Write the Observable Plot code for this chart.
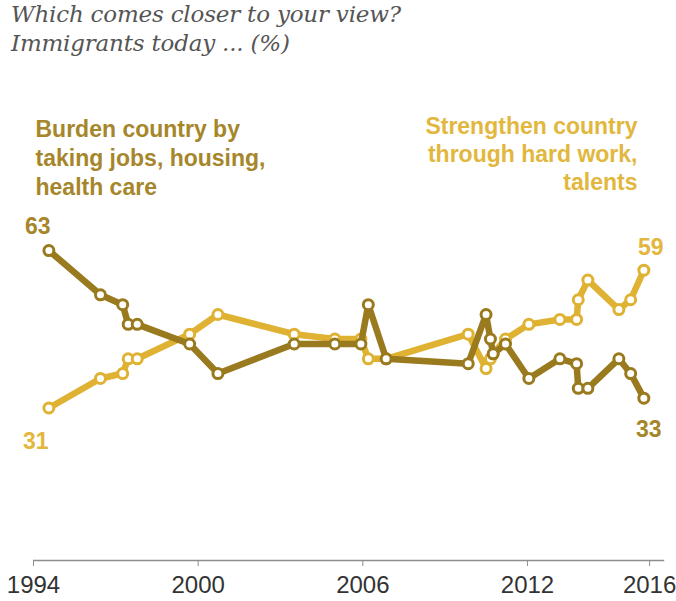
<!DOCTYPE html>
<html><head><meta charset="utf-8">
<script src="https://cdn.jsdelivr.net/npm/d3@7"></script>
<script src="https://cdn.jsdelivr.net/npm/@observablehq/plot@0.6"></script>
<style>
body{margin:0;background:#fff;width:676px;height:601px;overflow:hidden}
#title{height:70px;padding:0 0 0 11px;box-sizing:border-box;font-family:"DejaVu Serif",serif;font-style:italic;font-size:23px;line-height:29px;color:#555;letter-spacing:-0.2px}
#chart svg{display:block}
</style></head><body>
<div id="title">Which comes closer to your view?<br>Immigrants today ... (%)</div>
<div id="chart"></div>
<script>
// survey dates (decimal years)
const dates = [1994.56, 1996.44, 1997.25, 1997.45, 1997.78, 1999.69, 2000.72, 2003.5, 2004.98, 2005.93, 2006.2, 2006.85, 2009.84, 2010.49, 2010.65, 2010.75, 2011.2, 2012.05, 2013.18, 2013.79, 2013.85, 2014.2, 2015.33, 2015.76, 2016.24];
// "Strengthen country through hard work, talents" (%)
const strengthen = [31, 37, 38, 41, 41, 46, 50, 46, 45, 45, 41, 41, 46, 39, 41, 42, 45, 48, 49, 49, 53, 57, 51, 53, 59];
// "Burden country by taking jobs, housing, health care" (%)
const burden = [63, 54, 52, 48, 48, 44, 38, 44, 44, 44, 52, 41, 40, 50, 45, 42, 44, 37, 41, 40, 35, 35, 41, 38, 33];
const xTicks = [1994, 2000, 2006, 2012, 2016.45];
const xTickLabels = ["1994", "2000", "2006", "2012", "2016"];
const burdenLabel = "Burden country by\ntaking jobs, housing,\nhealth care";
const strengthenLabel = "Strengthen country\nthrough hard work,\ntalents";

const sColor = "#dfb233";
const bColor = "#9a7a1e";
const sText = "#e2b73e";
const bText = "#a6862a";

const rows = dates.map((d, i) => ({date: d, s: strengthen[i], b: burden[i]}));
const first = [rows[0]];
const last = [rows[rows.length - 1]];

const chart = Plot.plot({
  width: 676,
  height: 531,
  marginLeft: 33,
  marginRight: 11.8,
  marginTop: 145.6,
  marginBottom: 41,
  x: {domain: [1994, 2017], axis: null},
  y: {domain: [0, 70], axis: null},
  style: {fontFamily: "'Liberation Sans', Arial, sans-serif", background: "#fff", overflow: "visible"},
  marks: [
    Plot.ruleY([0], {stroke: "#8e8e8e", strokeWidth: 1.5}),
    Plot.axisX({ticks: xTicks, tickFormat: d => xTickLabels[xTicks.indexOf(d)], tickSize: 6, tickPadding: 9, fontSize: 24, stroke: "#8e8e8e", fill: "#333", label: null}),
    Plot.line(rows, {x: "date", y: "s", stroke: sColor, strokeWidth: 6.5, strokeLinejoin: "round"}),
    Plot.dot(rows, {x: "date", y: "s", r: 5, fill: "white", stroke: sColor, strokeWidth: 3}),
    Plot.line(rows, {x: "date", y: "b", stroke: bColor, strokeWidth: 6.5, strokeLinejoin: "round"}),
    Plot.dot(rows, {x: "date", y: "b", r: 5, fill: "white", stroke: bColor, strokeWidth: 3}),
    Plot.text([burdenLabel], {frameAnchor: "top-left", textAnchor: "start", lineAnchor: "bottom", dx: 2, dy: -21.6, lineHeight: 1.26, fontSize: 23, fontWeight: "bold", fill: bText}),
    Plot.text([strengthenLabel], {frameAnchor: "top-right", textAnchor: "end", lineAnchor: "bottom", dx: -27.2, dy: -26.6, lineHeight: 1.217, fontSize: 23, fontWeight: "bold", fill: sText}),
    Plot.text(first, {x: "date", y: "b", text: d => String(d.b), dx: -11, dy: -17, lineAnchor: "bottom", fontSize: 23, fontWeight: "bold", fill: bText}),
    Plot.text(first, {x: "date", y: "s", text: d => String(d.s), dx: -13, dy: 41, lineAnchor: "bottom", fontSize: 23, fontWeight: "bold", fill: sText}),
    Plot.text(last, {x: "date", y: "s", text: d => String(d.s), dx: 7, dy: -15, lineAnchor: "bottom", fontSize: 23, fontWeight: "bold", fill: sText}),
    Plot.text(last, {x: "date", y: "b", text: d => String(d.b), dx: 5, dy: 39, lineAnchor: "bottom", fontSize: 23, fontWeight: "bold", fill: bText})
  ]
});
document.getElementById("chart").appendChild(chart);
</script>
</body></html>
